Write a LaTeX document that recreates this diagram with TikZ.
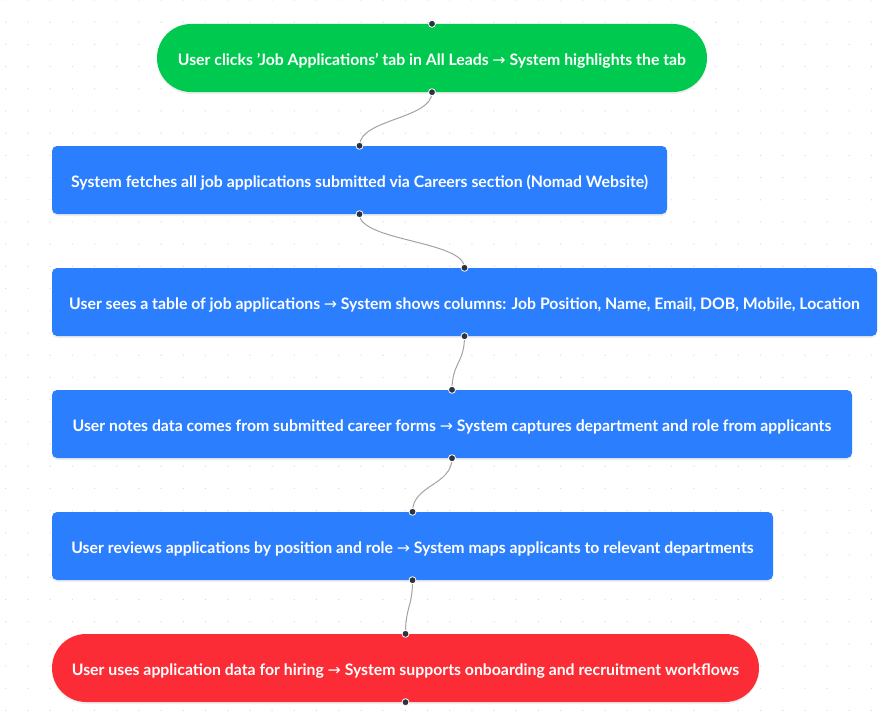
\documentclass[tikz,border=0pt]{standalone}
\usepackage{fontspec}
\setmainfont{Lato}
\newfontfamily\arrfont{DejaVu Sans}
\newcommand{\arr}{{\arrfont\mdseries\char"2192}}
\newcommand{\apo}{\char"0027}
\usetikzlibrary{shadows}
\definecolor{stepgreen}{HTML}{00C950}
\definecolor{stepblue}{HTML}{2B7FFF}
\definecolor{stepred}{HTML}{FB2C36}
\definecolor{edgegray}{HTML}{A3A3A3}
\definecolor{portc}{HTML}{2D3340}
\definecolor{gridc}{HTML}{DCDCDC}
\tikzset{
  box/.style={draw=none, text=white, font=\bfseries\fontsize{15.8}{19}\selectfont,
    inner sep=0pt, minimum height=68pt, anchor=center, text height=15.6pt, text depth=0pt,
    drop shadow={opacity=0.12, shadow xshift=0pt, shadow yshift=-2pt}},
  bluebox/.style={box, fill=stepblue, rounded corners=5pt},
  greenbox/.style={box, fill=stepgreen, rounded corners=34pt},
  redbox/.style={box, fill=stepred, rounded corners=34pt},
  edge/.style={draw=edgegray, line width=1pt},
  port/.style={fill=portc, draw=white, line width=0.8pt}
}
\begin{document}
\begin{tikzpicture}[x=1pt,y=-1pt]
\useasboundingbox (0,0) rectangle (893,717);
\fill[white] (0,0) rectangle (893,717);
\foreach \i in {0,...,40}{\foreach \j in {0,...,32}{\fill[gridc] (5.7+22.2*\i,22.2*\j) circle (0.7);}}
\node[greenbox, minimum width=550pt] (n1) at (432,58) {User clicks \apo Job Applications\apo{} tab in All Leads \arr{} System highlights the tab};
\node[bluebox, minimum width=615pt] (n2) at (359.5,180) {System fetches all job applications submitted via Careers section (Nomad Website)};
\node[bluebox, minimum width=825pt] (n3) at (464.5,302) {User sees a table of job applications \arr{} System shows columns: Job Position, Name, Email, DOB, Mobile, Location};
\node[bluebox, minimum width=800pt] (n4) at (452,424) {User notes data comes from submitted career forms \arr{} System captures department and role from applicants};
\node[bluebox, minimum width=721pt] (n5) at (412.5,546) {User reviews applications by position and role \arr{} System maps applicants to relevant departments};
\node[redbox, minimum width=707pt] (n6) at (405.5,668) {User uses application data for hiring \arr{} System supports onboarding and recruitment workflows};
\draw[edge] (n1.south) .. controls +(0,27) and +(0,-27) .. (n2.north);
\draw[edge] (n2.south) .. controls +(0,27) and +(0,-27) .. (n3.north);
\draw[edge] (n3.south) .. controls +(0,27) and +(0,-27) .. (n4.north);
\draw[edge] (n4.south) .. controls +(0,27) and +(0,-27) .. (n5.north);
\draw[edge] (n5.south) .. controls +(0,27) and +(0,-27) .. (n6.north);
\foreach \n in {n1,n2,n3,n4,n5,n6}{
  \filldraw[port] (\n.north) circle (3.5);
  \filldraw[port] (\n.south) circle (3.5);
}
\end{tikzpicture}
\end{document}
